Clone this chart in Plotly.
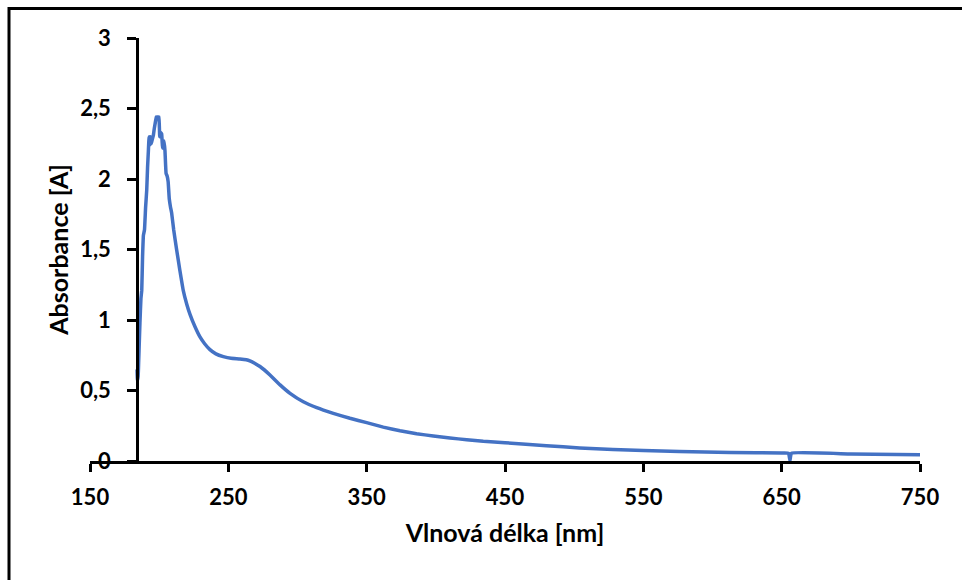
import plotly.graph_objects as go

# ---- data ----
wavelength_nm = [
    184.0, 184.3, 184.8, 185.5, 186.1, 186.8, 187.4, 188.0, 188.6, 189.4,
    190.2, 191.0, 191.6, 192.2, 192.7, 193.2, 193.7, 194.3, 195.0, 195.8,
    196.5, 197.2, 198.0, 199.0, 199.8, 200.4, 201.0, 201.8, 202.4, 203.0,
    203.6, 204.2, 205.0, 205.8, 206.5, 207.3, 208.2, 209.0, 210.5, 212.6,
    215.0, 217.4, 220.0, 222.3, 226.0, 229.5, 233.0, 236.7, 241.0, 246.4,
    252.0, 258.4, 263.0, 266.0, 269.0, 272.9, 280.1, 287.4, 294.6, 304.2,
    313.9, 325.9, 337.9, 350.0, 362.0, 374.1, 386.1, 398.2, 410.2, 422.3,
    434.3, 450.0, 480.0, 504.0, 528.0, 550.0, 576.0, 613.0, 650.0, 655.0,
    656.0, 657.0, 700.0, 750.0,
]
absorbance = [
    0.65, 0.57, 0.60, 0.80, 0.98, 1.15, 1.21, 1.45, 1.60, 1.64,
    1.80, 1.92, 2.08, 2.20, 2.30, 2.24, 2.30, 2.25, 2.28, 2.31,
    2.36, 2.40, 2.44, 2.44, 2.44, 2.30, 2.33, 2.32, 2.22, 2.25,
    2.27, 2.20, 2.04, 2.02, 1.98, 1.86, 1.80, 1.76, 1.64, 1.50,
    1.35, 1.21, 1.11, 1.04, 0.95, 0.88, 0.83, 0.79, 0.76, 0.74,
    0.728, 0.724, 0.718, 0.708, 0.693, 0.67, 0.61, 0.54, 0.48, 0.42,
    0.378, 0.338, 0.303, 0.272, 0.240, 0.215, 0.194, 0.177, 0.163, 0.151,
    0.140, 0.130, 0.108, 0.093, 0.081, 0.074, 0.067, 0.061, 0.056, 0.055,
    0.003, 0.055, 0.050, 0.045,
]
x_title = "Vlnová délka [nm]"
y_title = "Absorbance [A]"
x_ticks = [150, 250, 350, 450, 550, 650, 750]

# ---- layout constants ----
W, H = 962, 580
ML, MR, MT, MB = 90, 42, 38, 119
PW, PH = W - ML - MR, H - MT - MB
X_MIN, X_MAX = 150, 750
Y_CROSS = 184  # wavelength where the vertical axis sits

def px_x(p):
    return (p - ML) / PW

def px_y(p):
    return (H - MB - p) / PH

FAMILY = "Lato, 'Open Sans', sans-serif"
TICK_FONT = dict(family=FAMILY, size=22, color="black", weight="bold")
TITLE_FONT = dict(family=FAMILY, size=25, color="black", weight="bold")

fig = go.Figure()
fig.add_trace(go.Scatter(
    x=wavelength_nm, y=absorbance, mode="lines",
    line=dict(color="#4472C4", width=3.5, shape="spline", smoothing=0.3),
    showlegend=False, hoverinfo="skip",
))

fig.update_layout(
    width=W, height=H,
    margin=dict(l=ML, r=MR, t=MT, b=MB, pad=0),
    paper_bgcolor="white", plot_bgcolor="white",
    separators=", ",
    font=TICK_FONT,
    xaxis=dict(
        range=[X_MIN, X_MAX], tickvals=x_ticks, ticktext=[str(v) for v in x_ticks],
        showgrid=False, zeroline=False,
        showline=True, linecolor="black", linewidth=2.5,
        ticks="outside", ticklen=8, tickwidth=2.5, tickcolor="black",
        tickfont=TICK_FONT, ticklabelstandoff=7,
        title=dict(text=x_title, font=TITLE_FONT, standoff=16),
    ),
    yaxis=dict(
        range=[0, 3], dtick=0.5, tick0=0,
        anchor="free", position=(Y_CROSS - X_MIN) / (X_MAX - X_MIN),
        showgrid=False, zeroline=False,
        showline=True, linecolor="black", linewidth=2.5,
        ticks="outside", ticklen=9, tickwidth=2.5, tickcolor="black",
        tickfont=TICK_FONT, ticklabelstandoff=12,
        title=dict(text=y_title, font=TITLE_FONT, standoff=3),
    ),
    shapes=[dict(
        type="rect", xref="paper", yref="paper",
        x0=px_x(9), x1=px_x(1100), y0=px_y(700), y1=px_y(8.5),
        line=dict(color="black", width=3), fillcolor="rgba(0,0,0,0)", layer="above",
    )],
)

fig.write_html("out.html")
